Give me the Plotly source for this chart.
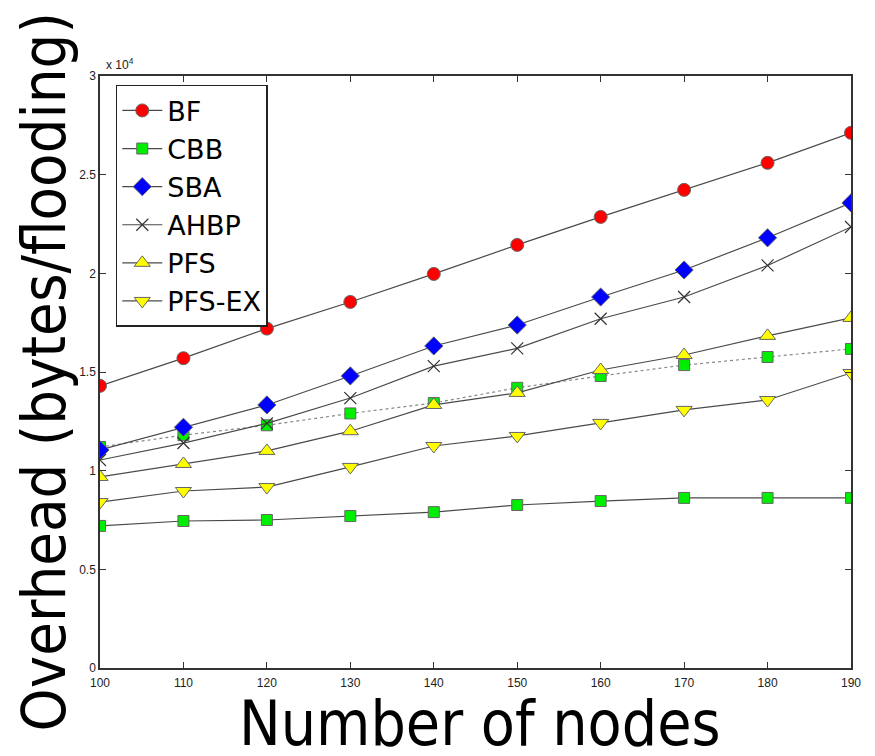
import plotly.graph_objects as go

nodes = [100, 110, 120, 130, 140, 150, 160, 170, 180, 190]

bf = [14300, 15700, 17200, 18550, 19970, 21440, 22860, 24230, 25600, 27120]
cbb = [7200, 7450, 7500, 7700, 7900, 8260, 8460, 8620, 8620, 8620]
cbb_ref = [11200, 11800, 12300, 12900, 13430, 14200, 14800, 15350, 15760, 16170]
sba = [11050, 12200, 13330, 14800, 16320, 17380, 18800, 20170, 21800, 23570]
ahbp = [10540, 11400, 12400, 13680, 15300, 16200, 17700, 18800, 20400, 22350]
pfs = [9680, 10340, 11000, 12000, 13330, 13940, 15100, 15860, 16830, 17740]
pfs_ex = [8410, 8970, 9170, 10190, 11250, 11760, 12420, 13080, 13580, 14950]

line_col = "#4a4a4a"
edge_col = "#666666"

series = [
    ("BF", bf, "circle", "#ff0000", 13),
    ("CBB", cbb, "square", "#00ee00", 11),
    ("SBA", sba, "diamond", "#0000ff", 14),
    ("AHBP", ahbp, "x-thin", "#333333", 12),
    ("PFS", pfs, "triangle-up", "#ffff00", 14),
    ("PFS-EX", pfs_ex, "triangle-down", "#ffff00", 14),
]

fig = go.Figure()

# dotted companion curve for CBB (no legend entry)
fig.add_trace(go.Scatter(
    x=nodes, y=cbb_ref, mode="lines+markers", showlegend=False,
    line=dict(color="#888888", width=1.2, dash="dot"),
    marker=dict(symbol="square", size=11, color="#00ee00",
                line=dict(color=edge_col, width=1)),
))

for name, vals, sym, col, sz in series:
    if sym == "x-thin":
        mk = dict(symbol=sym, size=sz, color=col, line=dict(color="#333333", width=1.2))
    else:
        mk = dict(symbol=sym, size=sz, color=col, line=dict(color=edge_col, width=1))
    fig.add_trace(go.Scatter(
        x=nodes, y=vals, mode="lines+markers", name=name,
        line=dict(color=line_col, width=1.2), marker=mk,
    ))

tick_font = dict(family="Liberation Sans, Arial, sans-serif", size=12, color="#222222")

fig.update_xaxes(
    range=[100, 190], tickvals=nodes, ticktext=[str(n) for n in nodes],
    ticks="inside", ticklen=6, tickcolor="#333333", showline=True, linecolor="#333333",
    linewidth=1.5, mirror="ticks", showgrid=False, zeroline=False, tickfont=tick_font,
    ticklabelstandoff=3,
)
fig.update_yaxes(
    range=[0, 30000], tickvals=[0, 5000, 10000, 15000, 20000, 25000, 30000],
    ticktext=["0", "0.5", "1", "1.5", "2", "2.5", "3"],
    ticks="inside", ticklen=6, tickcolor="#333333", showline=True, linecolor="#333333",
    linewidth=1.5, mirror="ticks", showgrid=False, zeroline=False, tickfont=tick_font,
)

fig.add_annotation(
    x=0, y=1, xref="paper", yref="paper", xanchor="left", yanchor="bottom",
    text="x 10<sup>4</sup>", showarrow=False, xshift=4, yshift=2,
    font=dict(family="Liberation Sans, Arial, sans-serif", size=12, color="#222222"),
)
fig.add_annotation(
    x=0.5, y=0, xref="paper", yref="paper", xanchor="center", yanchor="top",
    text="Number of nodes", showarrow=False, yshift=-17, xshift=4,
    font=dict(family="DejaVu Sans Condensed, DejaVu Sans, sans-serif", size=62, color="#000000"),
)
fig.add_annotation(
    x=0, y=0.5, xref="paper", yref="paper", xanchor="right", yanchor="middle",
    text="Overhead (bytes/flooding)", showarrow=False, textangle=-90, xshift=-20, yshift=0,
    font=dict(family="DejaVu Sans Condensed, DejaVu Sans, sans-serif", size=61, color="#000000"),
)

fig.update_layout(
    width=875, height=756,
    margin=dict(l=100, r=24, t=76, b=88),
    paper_bgcolor="white", plot_bgcolor="white",
    legend=dict(
        x=0.021, y=0.985, xanchor="left", yanchor="top",
        bgcolor="white", bordercolor="#222222", borderwidth=1.5,
        font=dict(family="DejaVu Sans, sans-serif", size=27, color="#000000"),
        tracegroupgap=0, itemwidth=40,
    ),
)

fig.write_html("out.html")
